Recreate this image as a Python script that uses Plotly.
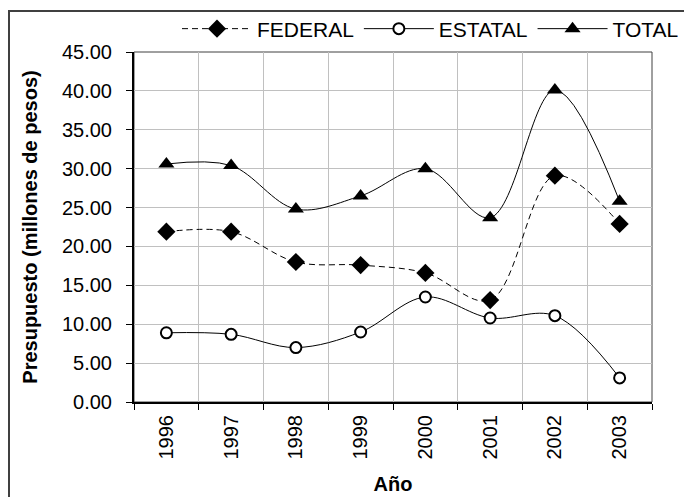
import plotly.graph_objects as go

years = ["1996", "1997", "1998", "1999", "2000", "2001", "2002", "2003"]
federal = [21.9, 21.9, 18.0, 17.6, 16.6, 13.1, 29.1, 22.9]
estatal = [8.9, 8.7, 7.0, 9.0, 13.5, 10.8, 11.1, 3.1]
total = [30.6, 30.4, 24.8, 26.5, 30.0, 23.7, 40.1, 25.8]

FONT = 'Arial, "Liberation Sans", sans-serif'

fig = go.Figure()
fig.add_trace(go.Scatter(
    x=years, y=federal, name="FEDERAL", mode="lines+markers",
    line=dict(color="black", width=1, dash="6px,4px", shape="spline", smoothing=1),
    marker=dict(symbol="diamond", size=14, color="black"),
))
fig.add_trace(go.Scatter(
    x=years, y=estatal, name="ESTATAL", mode="lines+markers",
    line=dict(color="black", width=1, shape="spline", smoothing=1),
    marker=dict(symbol="circle", size=11, color="white", line=dict(color="black", width=2)),
))
fig.add_trace(go.Scatter(
    x=years, y=total, name="TOTAL", mode="lines+markers",
    line=dict(color="black", width=1, shape="spline", smoothing=1),
    marker=dict(symbol="triangle-up", size=14, color="black"),
))

L, R, T, B = 134, 32, 52, 95
W, H = 684, 497
pw, ph = W - L - R, H - T - B

fig.update_layout(
    width=W, height=H,
    margin=dict(l=L, r=R, t=T, b=B, pad=0, autoexpand=False),
    paper_bgcolor="white", plot_bgcolor="white",
    font=dict(family=FONT, color="black", size=20),
    showlegend=True,
    legend=dict(
        orientation="h", xref="container", yref="container",
        x=1.0, xanchor="right",
        y=1 - 29 / H, yanchor="middle",
        font=dict(size=21), bgcolor="rgba(0,0,0,0)",
        itemwidth=70, tracegroupgap=0,
    ),
    xaxis=dict(
        type="category", range=[-0.5, 7.5], tickson="boundaries",
        automargin=False,
        showgrid=True, gridcolor="#c0c0c0", gridwidth=1,
        showline=True, linecolor="black", linewidth=2,
        ticks="outside", ticklen=6, tickcolor="black", tickwidth=1,
        tickangle=-90, tickfont=dict(size=20), ticklabelstandoff=3,
        title=dict(text="<b>Año</b>", font=dict(size=20), standoff=18),
        zeroline=False,
    ),
    yaxis=dict(
        range=[0, 45], dtick=5, tickformat=".2f",
        automargin=False,
        showgrid=True, gridcolor="#c0c0c0", gridwidth=1,
        showline=True, linecolor="black", linewidth=2,
        ticks="outside", ticklen=6, tickcolor="black", tickwidth=1,
        tickfont=dict(size=20), ticklabelstandoff=10,
        title=dict(text="<b>Presupuesto (millones de pesos)</b>", font=dict(size=20), standoff=19),
        zeroline=False,
    ),
)

# plot-area border (top/right thin dark line)
fig.add_shape(type="rect", xref="paper", yref="paper", x0=0, x1=1, y0=0, y1=1,
              line=dict(color="#404040", width=1), layer="below")
# outer chart frame
fig.add_shape(type="rect", xref="paper", yref="paper",
              x0=(9 - L) / pw, x1=(W + 10 - L) / pw,
              y0=(H - B - (H + 10)) / ph, y1=(H - B - 11) / ph,
              line=dict(color="#404040", width=2), layer="below")

fig.write_html("out.html", config={"displayModeBar": False},
               post_script="document.body.style.margin='0';")
